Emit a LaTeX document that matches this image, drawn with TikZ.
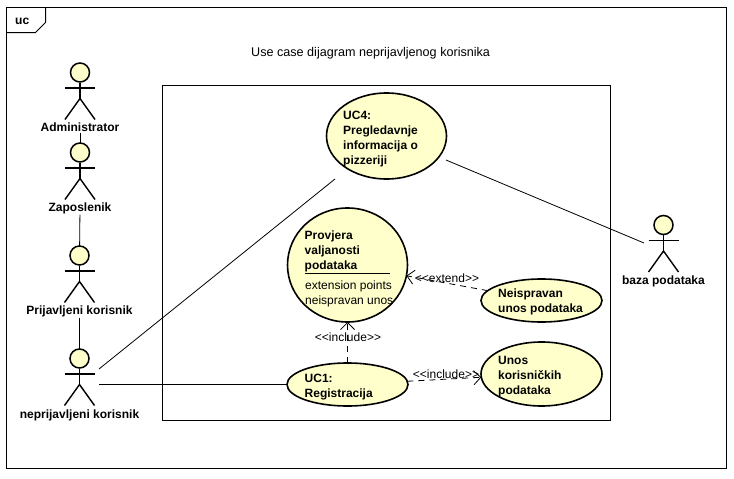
\documentclass[tikz,border=0pt]{standalone}
\usepackage{fontspec}
\setmainfont{Liberation Sans}
\usetikzlibrary{shapes.geometric,arrows.meta}
\definecolor{ucfill}{HTML}{FFFFCC}
\tikzset{
	usecase/.style={draw,ellipse,fill=ucfill,line width=1.6pt,inner sep=0pt,outer sep=0pt},
	uctext/.style={font=\bfseries\fontsize{12}{15}\selectfont,align=left,anchor=west,inner sep=0pt},
	plain/.style={font=\fontsize{12}{15}\selectfont,inner sep=0pt},
	actorlbl/.style={font=\bfseries\fontsize{12}{15}\selectfont,inner sep=0pt,outer sep=1pt},
	actorhead/.style={draw,circle,fill=ucfill,line width=1.5pt,minimum size=19pt,inner sep=0pt,outer sep=0pt},
	actorline/.style={line width=1.4pt},
	link/.style={line width=.8pt},
	dep/.style={line width=.8pt,dashed,dash pattern=on 6pt off 5pt,-{Straight Barb[length=7pt,width=14pt,line width=.8pt]}}
}
% name, x, y of the head, label, y of the label
\newcommand{\actor}[5]{
	\node[actorhead] (#1) at (#2,#3) {};
	\draw[actorline] (#2,#3+10) -- (#2,#3+26);
	\draw[actorline] (#2-15,#3+15.5) -- (#2+15,#3+15.5);
	\draw[actorline] (#2-15,#3+47) -- (#2,#3+26) -- (#2+15,#3+47);
	\node[actorlbl] (#1lbl) at (#2,#5) {#4};
}
\begin{document}
\begin{tikzpicture}[x=1pt,y=-1pt]
	\useasboundingbox (0,0) rectangle (734,479);
	% frame
	\draw[line width=1pt] (6.5,7.5) rectangle (726.5,468.5);
	\draw[line width=1pt] (6.5,32.5) -- (35.5,32.5) -- (45.5,22.5) -- (45.5,7.5);
	\node[uctext] (frametag) at (15,21) {uc};
	\node[plain,anchor=west,font=\fontsize{12.6}{15}\selectfont] (title) at (251,53.5) {Use case dijagram neprijavljenog korisnika};
	\draw[line width=1pt] (162.5,85.5) rectangle (610.5,420.5);

	% actors
	\actor{admin}{80}{72.5}{Administrator}{127.5}
	\actor{zap}{80}{152.5}{Zaposlenik}{208}
	\actor{prij}{79.5}{255.5}{Prijavljeni korisnik}{311}
	\actor{neprij}{79.5}{358.5}{neprijavljeni korisnik}{415}
	\actor{baza}{663.5}{225}{baza podataka}{281.5}
	\coordinate (neprijA) at (99,369);
	\coordinate (neprijB) at (99,384.5);
	\coordinate (bazaL) at (644,243);
	\coordinate (uc4A) at (335,179);
	\coordinate (uc4B) at (446,160);

	% use cases
	\node[usecase,minimum width=120pt,minimum height=86pt] (uc4) at (386.5,136) {};
	\node[usecase,minimum width=120pt,minimum height=114pt] (provjera) at (347.5,265) {};
	\node[usecase,minimum width=121pt,minimum height=43pt] (neisp) at (541.5,300.5) {};
	\node[usecase,minimum width=121pt,minimum height=43pt] (uc1) at (347.5,384.5) {};
	\node[usecase,minimum width=121pt,minimum height=64pt] (unos) at (541.5,374) {};

	\node[uctext] (uc4txt) at (343,139.5) {UC4:\\Pregledavnje\\informacija o\\pizzeriji};
	\node[uctext] (provjeratxt) at (304.5,251.5) {Provjera\\valjanosti\\podataka};
	\draw[line width=.8pt] (305,273) -- (390,273);
	\node[plain,align=left,anchor=west] (provjeraext) at (305,294) {extension points\\neispravan unos};
	\node[uctext] (neisptxt) at (498,302) {Neispravan\\unos podataka};
	\node[uctext] (uc1txt) at (304.5,387) {UC1:\\Registracija};
	\node[uctext] (unostxt) at (498,377) {Unos\\korisničkih\\podataka};

	% connectors
	\draw[link] (adminlbl) -- (zap);
	\draw[link] (zaplbl) -- (prij);
	\draw[link] (prijlbl) -- (neprij);
	\draw[link] (neprijA) -- (uc4A);
	\draw[link] (neprijB) -- (uc1);
	\draw[link] (uc4B) -- (bazaL);
	\draw[dep] (uc1) -- (provjera);
	\draw[dep] (uc1) -- (unos);
	\draw[dep] (neisp) -- (provjera);
	\node[plain] (inclA) at (348,337) {<{}<include>{}>};
	\node[plain] (inclB) at (446,374) {<{}<include>{}>};
	\node[plain] (extd) at (447,278) {<{}<extend>{}>};
\end{tikzpicture}
\end{document}
